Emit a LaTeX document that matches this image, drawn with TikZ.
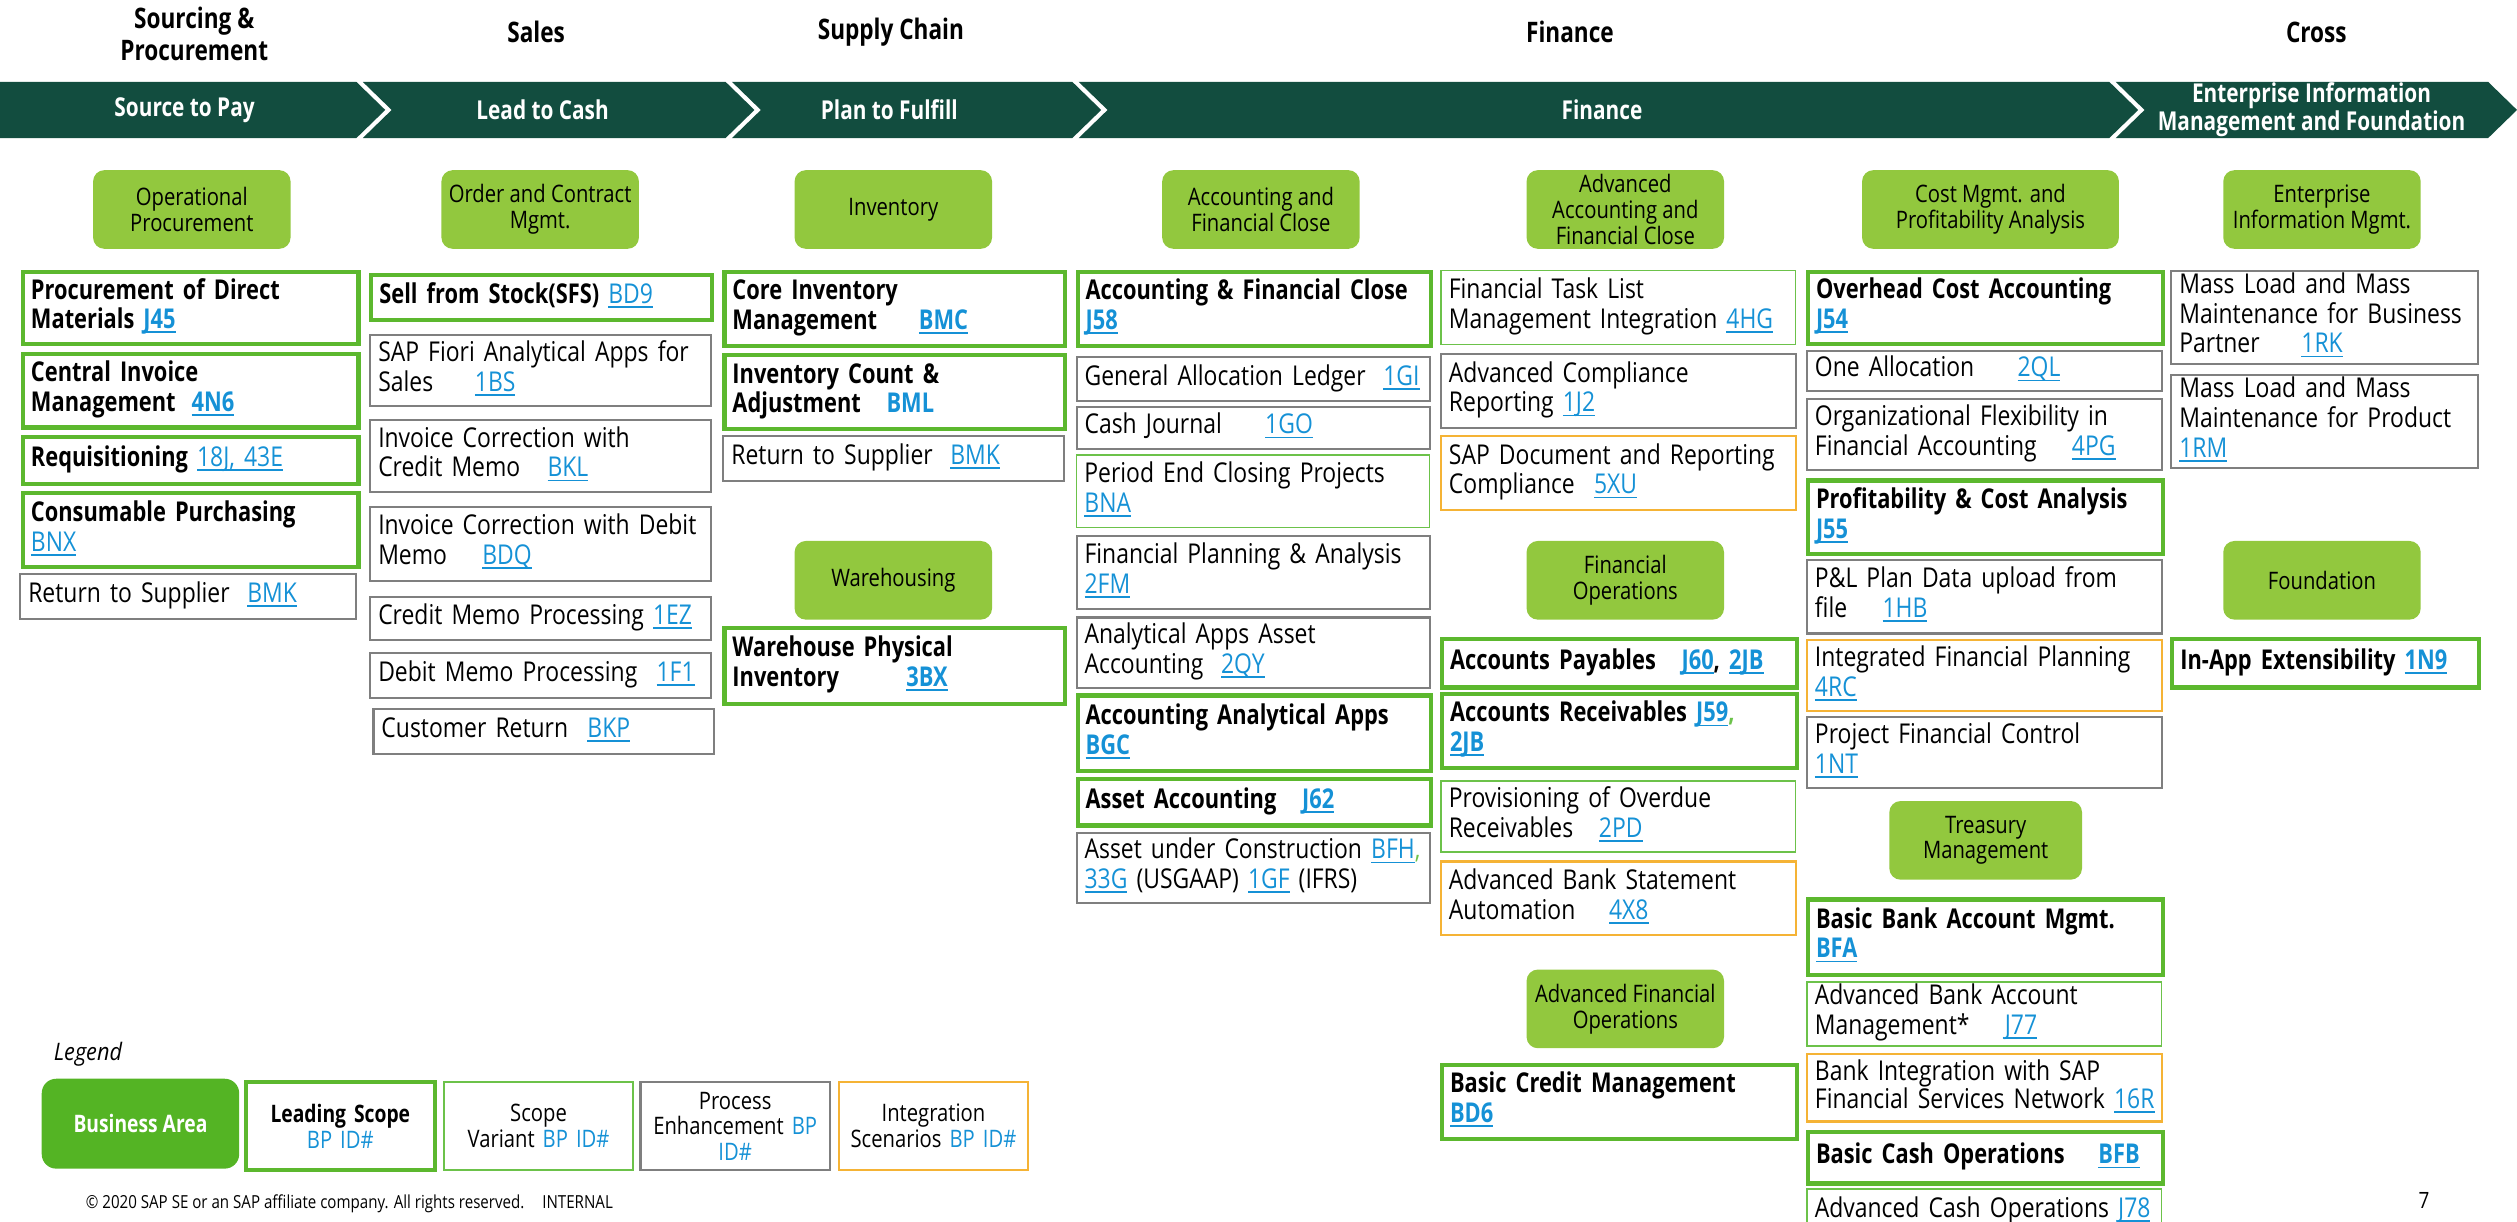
\documentclass[tikz,border=0pt]{standalone}
\usepackage{fontspec}
\setmainfont{Open Sans}[UprightFeatures={FakeStretch=0.84},BoldFeatures={FakeStretch=0.80},ItalicFeatures={FakeStretch=0.9}]
\definecolor{barGreen}{HTML}{124D3F}
\definecolor{areaGreen}{HTML}{92C83E}
\definecolor{leadGreen}{HTML}{5CB82E}
\definecolor{varGreen}{HTML}{6CC24A}
\definecolor{procGray}{HTML}{7F7F7F}
\definecolor{intOrange}{HTML}{F5B335}
\definecolor{linkBlue}{HTML}{1591D6}
\definecolor{legGreen}{HTML}{54B424}
\newcommand{\idfont}{\fontsize{17}{18.5}\selectfont}
\newcommand{\bizfont}{\fontsize{15}{16}\selectfont}
\newcommand{\hdfont}{\fontsize{17.6}{20}\selectfont\bfseries}
\newcommand{\chevfont}{\fontsize{16.2}{17}\selectfont\bfseries}
\newcommand{\legfont}{\fontsize{15}{16}\selectfont}
\newcommand{\bpid}[1]{\textcolor{linkBlue}{\setbox0=\hbox{#1}\rlap{\rule[-2.8pt]{\wd0}{1.1pt}}\box0}}
\newcommand{\rows}[1]{\begin{tabular}{@{}l@{}}#1\end{tabular}}

\begin{document}
\begin{tikzpicture}[x=1pt,y=-1pt,
    bizarea/.style={rounded corners=7pt,fill=areaGreen,minimum width=123pt,minimum height=49pt,
      align=center,inner sep=2pt,font=\bizfont},
    idbox/.style={anchor=north west,align=left,inner xsep=5pt,inner ysep=1pt,font=\idfont},
    lead/.style={idbox,draw=leadGreen,line width=2.6pt,font=\idfont\bfseries},
    variant/.style={idbox,draw=varGreen,line width=1.1pt},
    enhance/.style={idbox,draw=procGray,line width=1.3pt},
    integ/.style={idbox,draw=intOrange,line width=1.3pt},
    c1/.style={text width=199pt},
    c2/.style={text width=202pt},
    c3/.style={text width=202pt},
    c4/.style={text width=210pt},
    c5/.style={text width=211pt},
    c6/.style={text width=211pt},
    c7/.style={text width=181pt},
    heading/.style={font=\hdfont,align=center},
    bartext/.style={font=\chevfont,text=white,align=center},
    legbox/.style={minimum width=118pt,minimum height=55pt,text width=114pt,align=center,inner sep=2pt,font=\legfont},
  ]
  \useasboundingbox (0,0) rectangle (1568,761);
  % end-to-end process bar
  \fill[barGreen] (0,51) -- (222,51) -- (240,68.5) -- (222,86) -- (0,86) -- cycle;
  \foreach \a/\b in {226/452,456/668,672/1314,1318/1550}
    \fill[barGreen] (\a,51) -- (\b,51) -- ({\b+18},68.5) -- (\b,86) -- (\a,86) -- ({\a+18},68.5) -- cycle;
  \node[heading] (HSP) at (121,21) {Sourcing \&\\Procurement};
  \node[heading] (HSD) at (334,20) {Sales};
  \node[heading] (HSC) at (555,20) {Supply Chain};
  \node[heading] (HFI) at (978,20) {Finance};
  \node[heading] (HCR) at (1443,20) {Cross};
  \node[bartext] (STP) at (115,68.5) {Source to Pay};
  \node[bartext] (LTC) at (338,68.5) {Lead to Cash};
  \node[bartext] (PTF) at (554,68.5) {Plan to Fulfill};
  \node[bartext] (FIN) at (998,68.5) {Finance};
  \node[bartext,font=\fontsize{16.2}{16}\selectfont\bfseries] (EIMF) at (1440,68.5) {Enterprise Information\\Management and Foundation};
  % business areas
  \node[bizarea] (OPP) at (119.5,130.5) {Operational\\Procurement};
  \node[bizarea] (OCM) at (336.5,130.5) {Order and Contract\\Mgmt.};
  \node[bizarea] (INV) at (556.5,130.5) {Inventory};
  \node[bizarea] (AFCA) at (785.5,130.5) {Accounting and\\Financial Close};
  \node[bizarea] (AAFC) at (1012.5,130.5) {Advanced\\Accounting and\\Financial Close};
  \node[bizarea,minimum width=160pt] (CMPA) at (1240,130.5) {Cost Mgmt. and\\Profitability Analysis};
  \node[bizarea] (EIM) at (1446.5,130.5) {Enterprise\\Information Mgmt.};
  \node[bizarea] (WHS) at (556.5,361.5) {Warehousing};
  \node[bizarea] (FOP) at (1012.5,361.5) {Financial\\Operations};
  \node[bizarea] (FND) at (1446.5,361.5) {Foundation};
  \node[bizarea,minimum width=120pt] (TRM) at (1237,523.5) {Treasury\\Management};
  \node[bizarea] (AFO) at (1012.5,628.5) {Advanced Financial\\Operations};
  % sourcing and procurement
  \node[lead,c1,minimum height=45pt] (PDM) at (13,168) {\rows{Procurement of Direct\\Materials \bpid{J45}}};
  \node[lead,c1,minimum height=46pt] (CIM) at (13,219) {\rows{Central Invoice\\Management\hspace{10pt}\bpid{4N6}}};
  \node[lead,c1,minimum height=29pt] (REQ) at (13,271) {\rows{Requisitioning {\mdseries\bpid{18J, 43E}}}};
  \node[lead,c1,minimum height=46pt] (CSP) at (13,306) {\rows{Consumable Purchasing\\{\mdseries\bpid{BNX}}}};
  \node[enhance,c1,minimum height=28pt] (RTSA) at (12,357) {\rows{Return to Supplier\hspace{11pt}\bpid{BMK}}};
  % sales
  \node[lead,c2,minimum height=28pt] (SFS) at (230,170) {\rows{Sell from Stock(SFS) {\mdseries\bpid{BD9}}}};
  \node[enhance,c2,minimum height=44pt] (FIORI) at (230,208) {\rows{SAP Fiori Analytical Apps for\\Sales\hspace{26pt}\bpid{1BS}}};
  \node[enhance,c2,minimum height=45pt] (ICCM) at (230,261) {\rows{Invoice Correction with\\Credit Memo\hspace{17pt}\bpid{BKL}}};
  \node[enhance,c2,minimum height=46pt] (ICDM) at (230,315) {\rows{Invoice Correction with Debit\\Memo\hspace{22pt}\bpid{BDQ}}};
  \node[enhance,c2,minimum height=27pt] (CMP) at (230,371) {\rows{Credit Memo Processing \bpid{1EZ}}};
  \node[enhance,c2,minimum height=28pt] (DMP) at (230,406) {\rows{Debit Memo Processing\hspace{12pt}\bpid{1F1}}};
  \node[enhance,c2,minimum height=28pt] (CRET) at (232,441) {\rows{Customer Return\hspace{12pt}\bpid{BKP}}};
  % supply chain
  \node[lead,c3,minimum height=46pt] (CINV) at (450,168) {\rows{Core Inventory\\Management\hspace{26pt}\bpid{BMC}}};
  \node[lead,c3,minimum height=46pt] (ICNT) at (450,220) {\rows{Inventory Count \&\\Adjustment\hspace{16pt}\textcolor{linkBlue}{BML}}};
  \node[enhance,c3,minimum height=28pt] (RTSB) at (450,271) {\rows{Return to Supplier\hspace{11pt}\bpid{BMK}}};
  \node[lead,c3,minimum height=47pt] (WHPI) at (450,390) {\rows{Warehouse Physical\\Inventory\hspace{42pt}\bpid{3BX}}};
  % finance: accounting and financial close
  \node[lead,c4,minimum height=46pt] (AFC) at (670,168) {\rows{Accounting \& Financial Close\\\bpid{J58}}};
  \node[enhance,c4,minimum height=27pt] (GAL) at (670,222) {\rows{General Allocation Ledger\hspace{11pt}\bpid{1GI}}};
  \node[enhance,c4,minimum height=26pt] (CSJ) at (670,253) {\rows{Cash Journal\hspace{27pt}\bpid{1GO}}};
  \node[variant,c4,minimum height=45pt] (PECP) at (670,283) {\rows{Period End Closing Projects\\\bpid{BNA}}};
  \node[enhance,c4,minimum height=46pt] (FPA) at (670,333) {\rows{Financial Planning \& Analysis\\\bpid{2FM}}};
  \node[enhance,c4,minimum height=44pt] (AAAA) at (670,384) {\rows{Analytical Apps Asset\\Accounting\hspace{11pt}\bpid{2QY}}};
  \node[lead,c4,minimum height=47pt] (AAA) at (670,432) {\rows{Accounting Analytical Apps\\\bpid{BGC}}};
  \node[lead,c4,minimum height=29pt] (ASA) at (670,484) {\rows{Asset Accounting\hspace{16pt}\bpid{J62}}};
  \node[enhance,c4,minimum height=44pt] (AUC) at (670,518) {\rows{Asset under Construction \bpid{BFH}\textcolor{varGreen}{,}\\\bpid{33G} (USGAAP) \bpid{1GF} (IFRS)}};
  % finance: advanced accounting, operations
  \node[variant,c5,minimum height=46pt] (FTL) at (897,168) {\rows{Financial Task List\\Management Integration \bpid{4HG}}};
  \node[enhance,c5,minimum height=46pt] (ACR) at (897,220) {\rows{Advanced Compliance\\Reporting \bpid{1J2}}};
  \node[integ,c5,minimum height=46pt] (SDRC) at (897,271) {\rows{SAP Document and Reporting\\Compliance\hspace{12pt}\bpid{5XU}}};
  \node[lead,c5,minimum height=30pt] (ACP) at (897,397) {\rows{Accounts Payables\hspace{16pt}\bpid{J60}, \bpid{2JB}}};
  \node[lead,c5,minimum height=46pt] (ACRV) at (897,431) {\rows{Accounts Receivables \bpid{J59}\textcolor{varGreen}{,}\\\bpid{2JB}}};
  \node[variant,c5,minimum height=44pt] (POR) at (897,486) {\rows{Provisioning of Overdue\\Receivables\hspace{16pt}\bpid{2PD}}};
  \node[integ,c5,minimum height=46pt] (ABSA) at (897,536) {\rows{Advanced Bank Statement\\Automation\hspace{21pt}\bpid{4X8}}};
  \node[lead,c5,minimum height=46pt] (BCM) at (897,662) {\rows{Basic Credit Management\\\bpid{BD6}}};
  % finance: cost management, treasury
  \node[lead,c6,minimum height=45pt] (OCA) at (1125,168) {\rows{Overhead Cost Accounting\\\bpid{J54}}};
  \node[enhance,c6,minimum height=25pt] (ONA) at (1125,218) {\rows{One Allocation\hspace{27pt}\bpid{2QL}}};
  \node[enhance,c6,minimum height=44pt] (OFL) at (1125,248) {\rows{Organizational Flexibility in\\Financial Accounting\hspace{22pt}\bpid{4PG}}};
  \node[lead,c6,minimum height=46pt] (PCA) at (1125,298) {\rows{Profitability \& Cost Analysis\\\bpid{J55}}};
  \node[enhance,c6,minimum height=46pt] (PLU) at (1125,348) {\rows{P\&L Plan Data upload from\\file\hspace{22pt}\bpid{1HB}}};
  \node[integ,c6,minimum height=44pt] (IFP) at (1125,398) {\rows{Integrated Financial Planning\\\bpid{4RC}}};
  \node[enhance,c6,minimum height=44pt] (PFC) at (1125,446) {\rows{Project Financial Control\\\bpid{1NT}}};
  \node[lead,c6,minimum height=47pt] (BBAM) at (1125,559) {\rows{Basic Bank Account Mgmt.\\\bpid{BFA}}};
  \node[variant,c6,minimum height=40pt] (ABAM) at (1125,611) {\rows{Advanced Bank Account\\Management*\hspace{22pt}\bpid{J77}}};
  \node[integ,c6,minimum height=42pt,font=\fontsize{17}{14.5}\selectfont] (BISN) at (1125,656) {\rows{Bank Integration with SAP\\Financial Services Network \bpid{16R}}};
  \node[lead,c6,minimum height=32pt] (BCO) at (1125,704) {\rows{Basic Cash Operations\hspace{21pt}\bpid{BFB}}};
  \node[variant,c6,minimum height=28pt] (ACO) at (1125,740) {\rows{Advanced Cash Operations \bpid{J78}}};
  % cross
  \node[enhance,c7,minimum height=58pt] (MLBP) at (1352,168) {\rows{Mass Load and Mass\\Maintenance for Business\\Partner\hspace{26pt}\bpid{1RK}}};
  \node[enhance,c7,minimum height=58pt] (MLPR) at (1352,233) {\rows{Mass Load and Mass\\Maintenance for Product\\\bpid{1RM}}};
  \node[lead,c7,minimum height=30pt] (IAE) at (1352,397) {\rows{In-App Extensibility \bpid{1N9}}};
  % legend
  \node[anchor=west,font=\legfont\itshape] (LEG) at (30,657) {Legend};
  \node[rounded corners=9pt,fill=legGreen,minimum width=123pt,minimum height=56pt,text=white,font=\legfont\bfseries] (LBA) at (87.5,700) {Business Area};
  \node[legbox,draw=leadGreen,line width=2.6pt] (LLS) at (212,701.5) {\textbf{Leading Scope}\\\textcolor{linkBlue}{BP ID\#}};
  \node[legbox,draw=varGreen,line width=1.1pt] (LSV) at (335.5,701.5) {Scope\\Variant \textcolor{linkBlue}{BP ID\#}};
  \node[legbox,draw=procGray,line width=1.3pt] (LPE) at (458,701.5) {Process\\Enhancement \textcolor{linkBlue}{BP}\\\textcolor{linkBlue}{ID\#}};
  \node[legbox,draw=intOrange,line width=1.3pt] (LIS) at (581.5,701.5) {Integration\\Scenarios \textcolor{linkBlue}{BP ID\#}};
  \node[anchor=west,font=\fontsize{11.2}{12}\selectfont] (CPY) at (50,750) {© 2020 SAP SE or an SAP affiliate company. All rights reserved.\quad INTERNAL};
  \node[font=\fontsize{14}{16}\selectfont] (PG) at (1510,748) {7};
\end{tikzpicture}
\end{document}
